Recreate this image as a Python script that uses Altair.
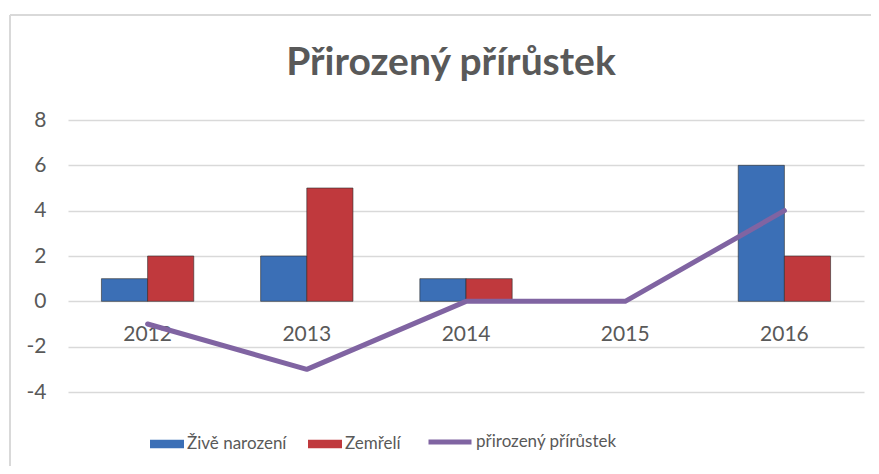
import altair as alt
import pandas as pd

years = ["2012", "2013", "2014", "2015", "2016"]
zive_narozeni = [1, 2, 1, 0, 6]
zemreli = [2, 5, 1, 0, 2]
prirozeny = [-1, -3, 0, 0, 4]
series_names = ["Živě narození", "Zemřelí"]
line_name = "přirozený přírůstek"

bars_df = pd.DataFrame(
    [{"rok": y, "serie": series_names[0], "hodnota": v} for y, v in zip(years, zive_narozeni)]
    + [{"rok": y, "serie": series_names[1], "hodnota": v} for y, v in zip(years, zemreli)]
)
line_df = pd.DataFrame({"rok": years, "hodnota": prirozeny, "serie": [line_name] * len(years)})

FONT = "Lato"
GREY = "#595959"

x_enc = alt.X(
    "rok:N",
    sort=years,
    title=None,
    scale=alt.Scale(paddingInner=0.42, paddingOuter=0.21),
    axis=alt.Axis(
        labelAngle=0, domain=False, ticks=False, grid=False, offset=-91,
        labelPadding=22, labelFontSize=21, labelColor=GREY, labelFont=FONT,
    ),
)
y_scale = alt.Scale(domain=[-4, 8], nice=False)
y_axis = alt.Axis(
    values=[-4, -2, 0, 2, 4, 6, 8], domain=False, ticks=False, grid=True,
    gridColor="#d9d9d9", gridWidth=1.5, labelPadding=22, labelFontSize=21,
    labelColor=GREY, labelFont=FONT, title=None, labelExpr="toString(datum.value)",
)

bars = alt.Chart(bars_df).mark_bar(strokeWidth=1, stroke="#2b2b2b").encode(
    x=x_enc,
    xOffset=alt.XOffset("serie:N", sort=series_names),
    y=alt.Y("hodnota:Q", scale=y_scale, axis=y_axis),
    strokeOpacity=alt.condition("datum.hodnota == 0", alt.value(0), alt.value(0.6)),
    fill=alt.Fill(
        "serie:N",
        sort=series_names,
        scale=alt.Scale(domain=series_names, range=["#3b6fb6", "#c0393d"]),
        legend=alt.Legend(
            title=None, orient="none", direction="horizontal", legendX=82, legendY=307,
            symbolType="M-1,-0.25H1V0.25H-1Z", symbolSize=1156, symbolStrokeWidth=0,
            labelFontSize=17, labelColor=GREY, labelFont=FONT, labelOffset=3,
            columnPadding=21, padding=0, labelLimit=400,
        ),
    ),
)

line = alt.Chart(line_df).mark_line(strokeWidth=5, strokeCap="round", strokeJoin="round").encode(
    x=alt.X("rok:N", sort=years),
    y=alt.Y("hodnota:Q", scale=y_scale),
    stroke=alt.Stroke(
        "serie:N",
        scale=alt.Scale(domain=[line_name], range=["#8064a2"]),
        legend=alt.Legend(
            title=None, orient="none", direction="horizontal", legendX=358, legendY=298,
            symbolType="stroke", symbolSize=1849, symbolStrokeWidth=5,
            labelFontSize=17, labelColor=GREY, labelFont=FONT, labelOffset=2, padding=0,
            labelLimit=400,
        ),
    ),
)

border_top = alt.Chart(line_df).mark_rule(color="#d9d9d9", strokeWidth=1.5).encode(
    x=alt.value(-58), x2=alt.value(900), y=alt.value(-105)
)
border_left = alt.Chart(line_df).mark_rule(color="#d9d9d9", strokeWidth=1.5).encode(
    x=alt.value(-58), y=alt.value(-105), y2=alt.value(400)
)

chart = (
    alt.layer(border_top, border_left, bars, line)
    .resolve_scale(fill="independent", stroke="independent")
    .properties(
        width=796,
        height=272,
        autosize=alt.AutoSizeParams(type="none"),
        padding={"left": 60, "top": 112, "right": 7, "bottom": 74},
        title=alt.TitleParams(
            "Přirozený přírůstek", fontSize=39, font=FONT, fontWeight="bold",
            color=GREY, anchor="middle", offset=-100, dx=-15, baseline="alphabetic",
        ),
    )
    .configure_view(stroke=None)
)

chart.save("out.html", embed_options={"renderer": "svg", "actions": False})
